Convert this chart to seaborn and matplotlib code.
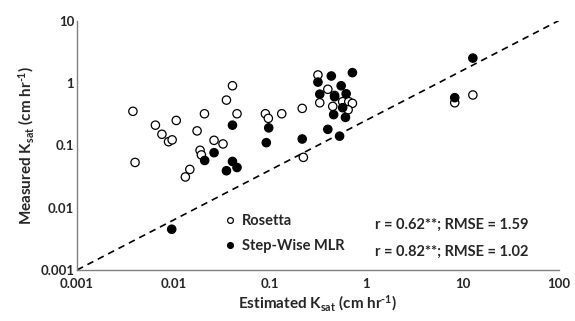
import numpy as np
import pandas as pd
import matplotlib
matplotlib.use("Agg")
import matplotlib.pyplot as plt
import seaborn as sns

# ---- data ----
rosetta_est = [0.0038, 0.0040, 0.0065, 0.0076, 0.0089, 0.0097, 0.0107, 0.0148, 0.0133,
               0.0176, 0.021, 0.0189, 0.0195, 0.0264, 0.0327, 0.041, 0.0355, 0.0457,
               0.090, 0.0966, 0.133, 0.217, 0.223, 0.316, 0.40, 0.33, 0.47, 0.57,
               0.66, 0.72, 0.45, 0.65, 8.3, 12.8]
rosetta_meas = [0.35, 0.053, 0.21, 0.15, 0.114, 0.122, 0.25, 0.041, 0.031,
                0.17, 0.32, 0.083, 0.070, 0.12, 0.105, 0.90, 0.53, 0.32,
                0.32, 0.27, 0.32, 0.39, 0.064, 1.34, 0.79, 0.48, 0.63, 0.50,
                0.50, 0.47, 0.42, 0.37, 0.48, 0.64]

mlr_est = [0.0096, 0.0211, 0.0264, 0.041, 0.041, 0.0457, 0.0355, 0.092, 0.0975,
           0.217, 0.40, 0.53, 0.316, 0.435, 0.72, 0.55, 0.33, 0.47, 0.62,
           0.57, 0.46, 0.61, 8.3, 12.8]
mlr_meas = [0.0045, 0.057, 0.076, 0.21, 0.055, 0.044, 0.039, 0.11, 0.19,
            0.126, 0.18, 0.14, 1.03, 1.29, 1.46, 0.90, 0.66, 0.60, 0.67,
            0.40, 0.31, 0.28, 0.58, 2.5]

series_names = ["Rosetta", "Step-Wise MLR"]
stats_text = ["r = 0.62**; RMSE = 1.59", "r = 0.82**; RMSE = 1.02"]

line_x = [0.001, 100]
line_y = [0.001, 10]

tick_vals_x = [0.001, 0.01, 0.1, 1, 10, 100]
tick_labels_x = ["0.001", "0.01", "0.1", "1", "10", "100"]
tick_vals_y = [0.001, 0.01, 0.1, 1, 10]
tick_labels_y = ["0.001", "0.01", "0.1", "1", "10"]

df = pd.concat([
    pd.DataFrame({"est": rosetta_est, "meas": rosetta_meas, "model": series_names[0]}),
    pd.DataFrame({"est": mlr_est, "meas": mlr_meas, "model": series_names[1]}),
])

# ---- style ----
sns.set_style("white")
plt.rcParams["font.family"] = ["Lato", "DejaVu Sans"]
plt.rcParams["font.weight"] = "bold"
plt.rcParams["mathtext.fontset"] = "custom"
plt.rcParams["mathtext.rm"] = "Lato:bold"
plt.rcParams["mathtext.bf"] = "Lato:bold"
plt.rcParams["mathtext.it"] = "Lato:bold"

fig = plt.figure(figsize=(5.75, 3.21), dpi=100)
ax = fig.add_axes([0.134, 0.159, 0.838, 0.777])

ax.plot(line_x, line_y, color="black", linestyle=(0, (4, 3)), linewidth=1.2, zorder=1)

sns.scatterplot(data=df, x="est", y="meas", hue="model", style="model",
                hue_order=series_names,
                palette={series_names[0]: "white", series_names[1]: "black"},
                markers={series_names[0]: "o", series_names[1]: "o"},
                edgecolor="black", linewidth=0.9, s=36, ax=ax, zorder=3)

ax.set_xscale("log")
ax.set_yscale("log")
ax.set_xlim(0.001, 100)
ax.set_ylim(0.001, 10)
ax.set_xticks(tick_vals_x, tick_labels_x)
ax.set_yticks(tick_vals_y, tick_labels_y)
ax.minorticks_off()
ax.tick_params(length=0, labelsize=9.5)
ax.tick_params(axis="x", pad=6)
ax.tick_params(axis="y", pad=2)
for lab in ax.get_xticklabels() + ax.get_yticklabels():
    lab.set_fontweight("bold")

for side in ["top", "right"]:
    ax.spines[side].set_visible(False)
for side in ["left", "bottom"]:
    ax.spines[side].set_color("#808080")
    ax.spines[side].set_linewidth(1.0)

ax.set_xlabel(r"Estimated K$_{\mathrm{sat}}$ (cm hr$^{\text{-}\mathrm{1}}$)", fontsize=11,
              fontweight="bold", labelpad=2)
ax.set_ylabel(r"Measured K$_{\mathrm{sat}}$ (cm hr$^{\text{-}\mathrm{1}}$)", fontsize=11,
              fontweight="bold", labelpad=3)

leg = ax.legend(loc="upper left", bbox_to_anchor=(0.305, 0.225), frameon=False,
                fontsize=10.5, handlelength=0.8, handletextpad=0.4, borderpad=0,
                borderaxespad=0, labelspacing=0.75, markerscale=0.7, title=None)
for t in leg.get_texts():
    t.set_fontweight("bold")

ax.text(0.618, 0.18, stats_text[0], transform=ax.transAxes, fontsize=10.5,
        fontweight="bold", va="center", ha="left")
ax.text(0.618, 0.072, stats_text[1], transform=ax.transAxes, fontsize=10.5,
        fontweight="bold", va="center", ha="left")

fig.savefig("out.png", dpi=100)
